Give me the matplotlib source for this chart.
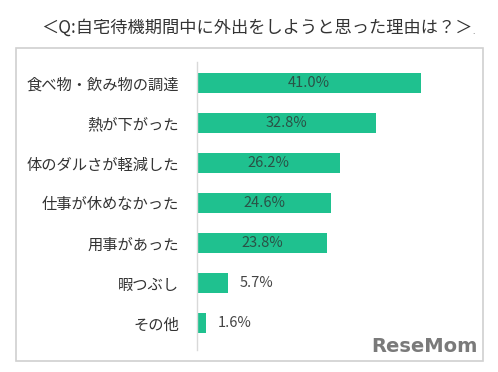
import matplotlib
matplotlib.use('Agg')
import matplotlib.pyplot as plt
from matplotlib.patches import Rectangle

plt.rcParams['font.family'] = ['Noto Sans CJK JP', 'DejaVu Sans']

# Survey data
title = '＜Q:自宅待機期間中に外出をしようと思った理由は？＞'
reasons = ['食べ物・飲み物の調達', '熱が下がった', '体のダルさが軽減した',
           '仕事が休めなかった', '用事があった', '暇つぶし', 'その他']
percent = [41.0, 32.8, 26.2, 24.6, 23.8, 5.7, 1.6]

bar_color = '#1fc18f'

fig = plt.figure(figsize=(4.98, 3.72), dpi=100)

# light grey frame around the chart
fig.patches.append(Rectangle((16 / 498, 1 - 361 / 372), 467 / 498, 313 / 372,
                             transform=fig.transFigure, fill=False,
                             edgecolor='#d0d0d0', linewidth=1.2))

fig.text(0.515, 1 - 28 / 372, title, ha='center', va='center',
         fontsize=12.4, color='#333333')
fig.text(474 / 498, 1 - 31 / 372, '.', ha='center', va='center',
         fontsize=6, color='#555555')

ax = fig.add_axes([197 / 498, 1 - 350 / 372, 273 / 498, 288 / 372])
y = list(range(len(reasons)))
ax.barh(y, percent, height=0.5, color=bar_color)
ax.set_xlim(0, 50)
ax.set_ylim(6.675, -0.525)

ax.set_yticks(y)
ax.set_yticklabels(reasons, fontsize=11, color='#333333')
ax.tick_params(axis='y', length=0, pad=13)
ax.set_xticks([])
for side in ['top', 'right', 'bottom']:
    ax.spines[side].set_visible(False)
ax.spines['left'].set_color('#d9d9d9')
ax.spines['left'].set_linewidth(1.0)

# value labels: inside for long bars, outside for short ones
for yi, v in zip(y, percent):
    if v > 10:
        ax.text(v / 2, yi, f'{v:.1f}%', ha='center', va='center',
                fontsize=10.5, color='#2a5246')
    else:
        ax.text(v + 2.2, yi, f'{v:.1f}%', ha='left', va='center',
                fontsize=10.5, color='#444444')

# watermark
fig.text(478 / 498, 1 - 347 / 372, 'ReseMom', ha='right', va='center',
         fontsize=14, fontweight='bold', color='#7a7a7a', family='DejaVu Sans')

fig.savefig('out.png', dpi=100)
